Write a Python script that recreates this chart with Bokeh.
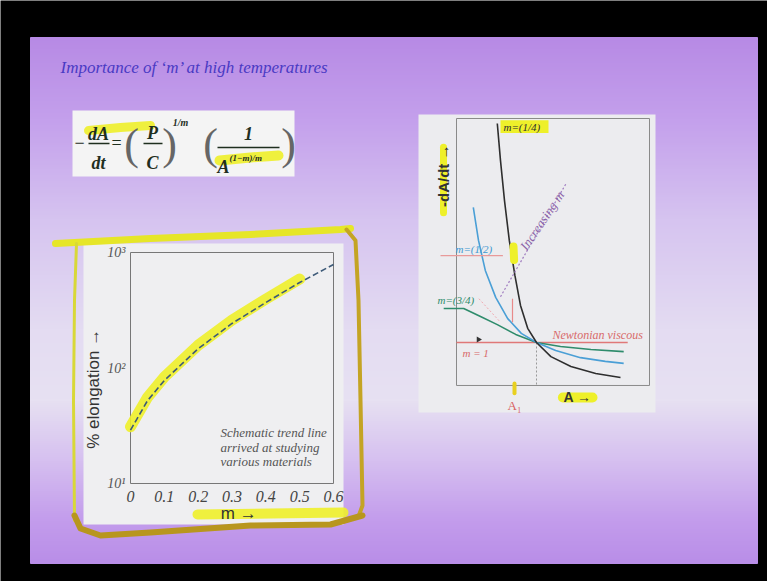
import math
from bokeh.plotting import figure
from bokeh.models import Range1d, LinearScale, LogScale
from bokeh.core.properties import value
from bokeh.embed import file_html
from bokeh.resources import INLINE

# ---- data: % elongation trend against strain-rate sensitivity m ----
m_vals = [0.0, 0.05, 0.1, 0.2, 0.3, 0.4, 0.5, 0.6]
elong_vals = [29, 52, 78, 147, 243, 369, 550, 787]
m_ticks = [0, 0.1, 0.2, 0.3, 0.4, 0.5, 0.6]
m_tick_labels = ["0", "0.1", "0.2", "0.3", "0.4", "0.5", "0.6"]
elong_ticks = [10, 100, 1000]
elong_tick_labels = ["10\u00b9", "10\u00b2", "10\u00b3"]
note_lines = ["Schematic trend line", "arrived at studying", "various materials"]

# ---- data: -dA/dt against A for several m ----
A_q1 = [0.51, 0.55, 0.60, 0.66, 0.73, 0.80, 0.89, 1.00, 1.18, 1.43, 1.74, 2.05]
rate_q1 = [7.50, 6.40, 5.21, 4.03, 2.99, 2.10, 1.42, 1.00, 0.58, 0.29, 0.08, -0.04]
A_q2 = [0.21, 0.275, 0.36, 0.49, 0.64, 0.81, 1.00, 1.24, 1.55, 1.86, 2.09]
rate_q2 = [5.01, 4.03, 3.14, 2.34, 1.71, 1.27, 1.00, 0.76, 0.55, 0.44, 0.38]
A_q3 = [-0.16, 0.09, 0.30, 0.51, 0.74, 1.00, 1.30, 1.68, 2.09]
rate_q3 = [2.01, 2.01, 1.77, 1.53, 1.24, 1.00, 0.88, 0.79, 0.73]
A_newt = [0.0, 2.14]
rate_newt = [1.0, 1.0]
A_one = 1.0

W, H = 767, 581
SERIF = value("Liberation Serif")
SANS = value("Liberation Sans")
YELLOW = "#eef02a"


def span(p_a, p_b, v_a, v_b, lo_px, hi_px):
    """Range whose values v_a, v_b land on canvas pixels p_a, p_b."""
    k = (v_b - v_a) / (p_b - p_a)
    return Range1d(v_a + (lo_px - p_a) * k, v_a + (hi_px - p_a) * k)


p = figure(width=W, height=H, output_backend="svg", toolbar_location=None,
           x_range=Range1d(0, W), y_range=Range1d(H, 0),
           x_axis_type=None, y_axis_type=None, min_border=0,
           background_fill_color="black", border_fill_color="black",
           outline_line_color=None)

# chart coordinate systems placed on the slide
ry_el = span(483, 252, 1.0, 3.0, H, 0)
p.extra_x_ranges = {
    "m": span(130, 333, 0.0, 0.6, 0, W),
    "A": span(456, 649, 0.0, 2.4125, 0, W),
}
p.extra_y_ranges = {
    "el": Range1d(10 ** ry_el.start, 10 ** ry_el.end),
    "rate": span(342, 118, 1.0, 7.65, H, 0),
}
p.extra_x_scales = {"m": LinearScale(), "A": LinearScale()}
p.extra_y_scales = {"el": LogScale(), "rate": LinearScale()}
EL = dict(x_range_name="m", y_range_name="el")
RT = dict(x_range_name="A", y_range_name="rate")

# ---- slide background with a soft vertical gradient ----
stops = [(37, (0xb7, 0x8a, 0xe5)), (120, (0xc4, 0xa0, 0xec)), (220, (0xd6, 0xc4, 0xf0)),
         (330, (0xe4, 0xdc, 0xf2)), (400, (0xe7, 0xe1, 0xf2)), (460, (0xd6, 0xc0, 0xf0)),
         (520, (0xc3, 0x9c, 0xec)), (563, (0xb9, 0x8e, 0xe8))]


def grad(y):
    for (y0, c0), (y1, c1) in zip(stops[:-1], stops[1:]):
        if y0 <= y <= y1:
            t = (y - y0) / (y1 - y0)
            return "#%02x%02x%02x" % tuple(int(a + (b - a) * t) for a, b in zip(c0, c1))
    return "#b98ee8"


tops = list(range(37, 563, 2))
cols = [grad(t + 1) for t in tops]
p.quad(left=30, right=757, top=tops, bottom=[min(t + 3, 563) for t in tops],
       fill_color=cols, line_color=cols, line_width=1)

# title
p.text(x=[60], y=[67], text=["Importance of \u2018m\u2019 at high temperatures"],
       text_font=SERIF, text_font_style="italic", text_font_size="17px",
       text_color="#4a3ac4", text_baseline="middle")

# ---- rate equation ----
p.quad(left=72, right=294, top=110, bottom=176, fill_color="#f4f4f4", line_color=None)
p.line([88, 120, 150], [130, 127, 125], line_width=9, line_color=YELLOW, line_alpha=0.9,
       line_cap="round")
p.line([219, 250, 278], [160, 157, 155], line_width=10, line_color=YELLOW, line_alpha=0.9,
       line_cap="round")
eq_col = "#1f2f1f"
eq = dict(text_font=SERIF, text_font_style="bold italic", text_color=eq_col,
          text_align="center", text_baseline="middle")
p.text(x=[98, 98, 152, 152, 248, 223], y=[133, 162, 132, 162, 133, 166],
       text=["dA", "dt", "P", "C", "1", "A"], text_font_size="18px", **eq)
p.text(x=[79, 116], y=[142, 142], text=["\u2212", "="], text_font_size="18px",
       text_font=SERIF, text_color=eq_col, text_align="center", text_baseline="middle")
p.text(x=[180], y=[122], text=["1/m"], text_font_size="10px", **eq)
p.text(x=[229], y=[157], text=["(1\u2212m)/m"], text_font_size="9px",
       text_font=SERIF, text_font_style="bold italic", text_color=eq_col,
       text_align="left", text_baseline="middle")
p.segment(x0=[88, 143, 217], x1=[109, 162, 279], y0=[143, 143, 147], y1=[143, 143, 147],
          line_color=eq_col, line_width=1.5)
p.text(x=[131, 169, 210, 288], y=[144, 144, 144, 144], text=["(", ")", "(", ")"],
       text_font=SERIF, text_font_size="44px", text_color="#666666",
       text_align="center", text_baseline="middle")

# ---- elongation chart ----
p.quad(left=83, right=343, top=243, bottom=524, fill_color="#efeff1", line_color=None)
p.quad(left=[0], right=[0.6], bottom=[10], top=[1000], fill_color=None,
       line_color="#777777", line_width=1, **EL)
p.line(m_vals[:7], [v * 1.07 for v in elong_vals[:7]], line_width=11,
       line_color=YELLOW, line_alpha=0.9, line_cap="round", **EL)
p.line(m_vals, elong_vals, line_width=1.6, line_color="#3d5a78", line_dash="6 3", **EL)
p.text(x=[0] * 3, y=elong_ticks, text=elong_tick_labels, x_offset=-5,
       text_font=SERIF, text_font_style="italic", text_font_size="14px",
       text_color="#555555", text_align="right", text_baseline="middle", **EL)
p.text(x=m_ticks, y=[10] * 7, text=m_tick_labels, y_offset=13,
       text_font=SERIF, text_font_style="italic", text_font_size="16px",
       text_color="#444444", text_align="center", text_baseline="middle", **EL)
p.text(x=[0.266] * 3, y=[27.6, 20.5, 15.5], text=note_lines,
       text_font=SERIF, text_font_style="italic", text_font_size="13px",
       text_color="#555555", text_baseline="middle", **EL)
# axis titles
p.line([197, 270, 343], [514, 513, 512], line_width=10, line_color=YELLOW,
       line_alpha=0.9, line_cap="round")
p.text(x=[0.32], y=[10], text=["m \u2192"], y_offset=30, text_font=SANS,
       text_font_size="17px", text_color="#333333", text_align="center",
       text_baseline="middle", **EL)
p.text(x=[0], y=[66], text=["% elongation \u2192"], x_offset=-37, angle=math.pi / 2,
       text_font=SANS, text_font_size="17px", text_color="#333333",
       text_align="center", text_baseline="middle", **EL)

# pen strokes around the elongation chart
p.line([55, 150, 250, 340, 350], [243, 238, 234, 229, 228], line_width=7,
       line_color="#e6e628", line_cap="round", line_join="round")
p.line([74, 73, 74, 76], [520, 400, 300, 243], line_width=3, line_color="#d8d838",
       line_cap="round")
p.line([346, 355, 358, 360, 362, 358, 340], [229, 240, 300, 400, 505, 516, 522],
       line_width=4, line_color="#c4a424", line_cap="round", line_join="round")
p.line([362, 330, 250, 150, 100, 80, 74], [515, 524, 525, 532, 535, 528, 515],
       line_width=6, line_color="#b8961e", line_cap="round", line_join="round")

# ---- -dA/dt against A chart ----
p.quad(left=418, right=655, top=114, bottom=412, fill_color="#ececef", line_color=None)
p.quad(left=[0], right=[2.4125], bottom=[-0.276], top=[7.65], fill_color=None,
       line_color="#8a8a8a", line_width=1, **RT)
p.line([A_one, A_one], [1.0, -0.276], line_color="#999999", line_dash="2 2",
       line_width=1, **RT)
p.line(A_newt, rate_newt, line_color="#e07878", line_width=1.6, **RT)
p.line(A_q3, rate_q3, line_color="#2f8c6c", line_width=1.6, **RT)
p.line(A_q2, rate_q2, line_color="#4a9fd6", line_width=1.6, **RT)
p.line(A_q1, rate_q1, line_color="#2e2e2e", line_width=1.6, **RT)

# curve labels and notes
p.quad(left=[0.55], right=[1.15], bottom=[7.22], top=[7.6], fill_color=YELLOW,
       line_color=None, **RT)
lab = dict(text_font=SERIF, text_font_style="italic", text_font_size="11px",
           text_baseline="middle")
p.text(x=[0.5875], y=[7.41], text=["m=(1/4)"], text_color="#2e2e2e", **lab, **RT)
p.line([-0.2, 0.58], [3.58, 3.58], line_color="#e89a9a", line_width=1.2, **RT)
p.text(x=[-0.0125], y=[3.79], text=["m=(1/2)"], text_color="#3f98d0", **lab, **RT)
p.line([0.7125, 0.72], [3.85, 3.45], line_color=YELLOW, line_width=8,
       line_cap="round", **RT)
p.text(x=[-0.2375], y=[2.25], text=["m=(3/4)"], text_color="#2f8c6c", **lab, **RT)
p.text(x=[0.075], y=[0.70], text=["m = 1"], text_color="#d86a6a", **lab, **RT)
p.text(x=[1.2], y=[1.21], text=["Newtonian viscous"], text_color="#d86a6a",
       text_font=SERIF, text_font_style="italic", text_font_size="12px",
       text_baseline="middle", **RT)
p.scatter(x=[0.275], y=[1.09], marker="triangle", size=6, angle=-math.pi / 2,
          fill_color="#333333", line_color=None, **RT)
# "Increasing m" guide
p.line([0.55, 1.375], [2.36, 5.74], line_color="#a07cc0", line_dash="2 2",
       line_width=1.2, **RT)
p.text(x=[1.07], y=[4.62], text=["Increasing m"], angle=0.977, text_font=SERIF,
       text_font_style="italic", text_font_size="13px", text_color="#8a62a8",
       text_align="center", text_baseline="middle", **RT)
p.line([0.7, 0.7], [2.3, 1.6], line_color="#e88a8a", line_width=1.2, **RT)
p.line([0.28, 0.55], [2.3, 1.6], line_color="#f0a8b0", line_width=1, line_dash="2 2",
       **RT)
# axis titles
p.line([-0.1625, -0.1625], [6.8, 4.85], line_color=YELLOW, line_width=7,
       line_cap="round", **RT)
p.text(x=[-0.1625], y=[5.95], text=["-dA/dt \u2192"], angle=math.pi / 2, text_font=SANS,
       text_font_style="bold", text_font_size="15px", text_color="#333333",
       text_align="center", text_baseline="middle", **RT)
p.line([1.33, 1.7], [-0.632, -0.632], line_color=YELLOW, line_width=10,
       line_cap="round", **RT)
p.text(x=[1.5125], y=[-0.632], text=["A \u2192"], text_font=SANS,
       text_font_style="bold", text_font_size="14px", text_color="#333333",
       text_align="center", text_baseline="middle", **RT)
p.line([0.725, 0.725], [-0.22, -0.51], line_color="#e8d020", line_width=4,
       line_cap="round", **RT)
p.text(x=[0.725], y=[-0.87], text=["A\u2081"], text_font=SERIF, text_font_size="13px",
       text_color="#d86060", text_align="center", text_baseline="middle", **RT)

open("out.html", "w").write(file_html(p, INLINE))
